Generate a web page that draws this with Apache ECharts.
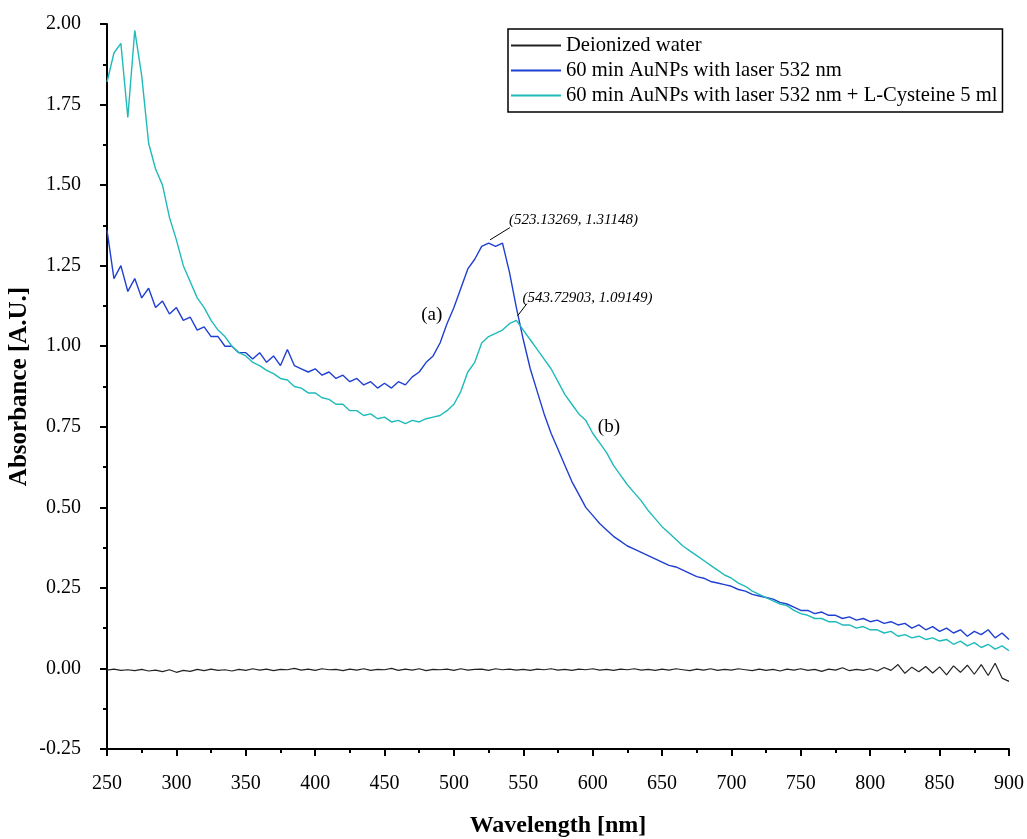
<!DOCTYPE html>
<html>
<head>
<meta charset="utf-8">
<script src="https://cdn.jsdelivr.net/npm/echarts@6/dist/echarts.min.js"></script>
<style>
  html, body { margin: 0; padding: 0; background: #fff; }
  #chart { width: 1027px; height: 839px; }
</style>
</head>
<body>
<div id="chart"></div>
<script>
// wavelength grid: 250..900 nm, 5 nm apart
const wlStart = 250;
const wlStep = 5;

const seriesNames = [
  'Deionized water',
  '60 min AuNPs with laser 532 nm',
  '60 min AuNPs with laser 532 nm + L-Cysteine 5 ml'
];

const water = [
  -0.005, -0.002, -0.006, -0.004, -0.007, -0.003, -0.008, -0.005, -0.010, -0.004,
  -0.012, -0.006, -0.009, -0.003, -0.007, -0.002, -0.006, -0.004, -0.008, -0.003,
  -0.006, -0.001, -0.005, -0.002, -0.007, -0.003, -0.004, 0.000, -0.005, -0.002,
  -0.006, -0.001, -0.004, -0.003, -0.007, -0.002, -0.005, -0.001, -0.006, -0.003,
  -0.004, 0.000, -0.006, -0.002, -0.005, -0.001, -0.007, -0.003, -0.004, -0.002,
  -0.006, -0.001, -0.005, -0.003, -0.002, -0.006, -0.001, -0.004, -0.002, -0.005,
  -0.003, -0.006, -0.002, -0.004, -0.001, -0.005, -0.003, -0.006, -0.002, -0.004,
  -0.001, -0.005, -0.003, -0.006, -0.002, -0.004, -0.001, -0.005, -0.003, -0.006,
  -0.002, -0.005, -0.001, -0.004, -0.007, -0.002, -0.005, -0.001, -0.006, -0.003,
  -0.005, -0.001, -0.004, -0.007, -0.002, -0.006, -0.003, -0.008, -0.002, -0.005,
  -0.001, -0.006, -0.003, -0.009, -0.002, -0.005, 0.002, -0.007, -0.003, -0.006,
  -0.001, -0.008, 0.003, -0.006, 0.012, -0.015, 0.004, -0.010, 0.006, -0.014,
  0.005, -0.020, 0.008, -0.012, 0.010, -0.018, 0.012, -0.022, 0.016, -0.030,
  -0.040
];

const auLaser = [
  1.36, 1.21, 1.25, 1.17, 1.21, 1.15, 1.18, 1.12, 1.14, 1.10,
  1.12, 1.08, 1.09, 1.05, 1.06, 1.03, 1.03, 1.00, 1.00, 0.98,
  0.98, 0.96, 0.98, 0.95, 0.97, 0.94, 0.99, 0.94, 0.93, 0.92,
  0.93, 0.91, 0.92, 0.90, 0.91, 0.89, 0.90, 0.88, 0.89, 0.87,
  0.885, 0.87, 0.89, 0.88, 0.905, 0.92, 0.95, 0.97, 1.01, 1.07,
  1.12, 1.18, 1.24, 1.27, 1.31, 1.32, 1.31, 1.32, 1.23, 1.12,
  1.02, 0.93, 0.86, 0.79, 0.73, 0.68, 0.63, 0.58, 0.54, 0.50,
  0.475, 0.45, 0.43, 0.41, 0.395, 0.38, 0.37, 0.36, 0.35, 0.34,
  0.33, 0.32, 0.315, 0.305, 0.295, 0.285, 0.28, 0.27, 0.265, 0.26,
  0.255, 0.245, 0.24, 0.23, 0.225, 0.22, 0.215, 0.205, 0.20, 0.19,
  0.18, 0.18, 0.17, 0.175, 0.165, 0.165, 0.155, 0.16, 0.15, 0.155,
  0.145, 0.15, 0.14, 0.145, 0.135, 0.14, 0.125, 0.135, 0.12, 0.13,
  0.115, 0.125, 0.11, 0.12, 0.10, 0.115, 0.105, 0.12, 0.095, 0.11,
  0.09
];

const auCysteine = [
  1.82, 1.91, 1.94, 1.71, 1.98, 1.84, 1.63, 1.55, 1.50, 1.40,
  1.33, 1.25, 1.20, 1.15, 1.12, 1.08, 1.05, 1.03, 1.00, 0.98,
  0.97, 0.95, 0.94, 0.925, 0.915, 0.90, 0.895, 0.875, 0.87, 0.855,
  0.855, 0.84, 0.835, 0.82, 0.82, 0.80, 0.80, 0.785, 0.79, 0.775,
  0.78, 0.765, 0.77, 0.76, 0.77, 0.765, 0.775, 0.78, 0.785, 0.80,
  0.82, 0.86, 0.92, 0.95, 1.01, 1.03, 1.04, 1.05, 1.07, 1.08,
  1.05, 1.02, 0.99, 0.96, 0.93, 0.89, 0.85, 0.82, 0.79, 0.77,
  0.73, 0.70, 0.67, 0.63, 0.60, 0.57, 0.545, 0.52, 0.49, 0.465,
  0.44, 0.42, 0.40, 0.38, 0.365, 0.35, 0.335, 0.32, 0.305, 0.29,
  0.28, 0.265, 0.255, 0.24, 0.23, 0.22, 0.21, 0.20, 0.195, 0.18,
  0.17, 0.165, 0.155, 0.155, 0.145, 0.145, 0.135, 0.135, 0.125, 0.13,
  0.12, 0.12, 0.11, 0.115, 0.10, 0.105, 0.095, 0.10, 0.09, 0.095,
  0.085, 0.09, 0.075, 0.085, 0.07, 0.08, 0.065, 0.075, 0.06, 0.07,
  0.055
];

// peak readouts printed on the chart
const peakA = [523.13269, 1.31148];
const peakB = [543.72903, 1.09149];

const toPairs = vals => vals.map((v, i) => [wlStart + i * wlStep, v]);

const serif = '"Liberation Serif", "Times New Roman", serif';
const chart = echarts.init(document.getElementById('chart'));

const axisCommon = {
  axisLine: { show: true, onZero: false, lineStyle: { color: '#000', width: 2 } },
  axisTick: { show: true, inside: false, length: 7, lineStyle: { color: '#000', width: 2 } },
  minorTick: { show: true, splitNumber: 2, length: 4, lineStyle: { color: '#000', width: 2 } },
  splitLine: { show: false },
  nameLocation: 'middle',
  nameMoveOverlap: false
};

const peakLabel = (pt, offset) => ({
  coord: pt,
  symbolSize: 0,
  label: {
    show: true,
    position: 'inside',
    offset: offset,
    align: 'left',
    formatter: '(' + pt[0].toFixed(5) + ', ' + pt[1].toFixed(5) + ')',
    fontFamily: serif, fontStyle: 'italic', fontSize: 15, color: '#000'
  }
});

const tagLabel = (text, pt) => ({
  coord: pt,
  symbolSize: 0,
  label: {
    show: true, position: 'inside', formatter: text,
    fontFamily: serif, fontSize: 19, color: '#000'
  }
});

chart.setOption({
  animation: false,
  backgroundColor: '#fff',
  grid: { left: 107, right: 18, top: 24, bottom: 90, containLabel: false, outerBoundsMode: 'none' },
  legend: {
    orient: 'vertical',
    left: 508,
    top: 29,
    padding: [6, 5, 6, 3],
    itemGap: 4,
    itemWidth: 50,
    itemHeight: 2,
    icon: 'rect',
    borderColor: '#000',
    borderWidth: 1.5,
    textStyle: { fontFamily: serif, fontSize: 20.6, color: '#000' },
    data: seriesNames
  },
  xAxis: Object.assign({}, axisCommon, {
    type: 'value',
    min: 250, max: 900, interval: 50,
    name: 'Wavelength [nm]',
    nameGap: 65,
    nameTextStyle: { fontFamily: serif, fontSize: 24, fontWeight: 'bold', color: '#000' },
    axisLabel: { margin: 25, fontFamily: serif, fontSize: 20, color: '#000' }
  }),
  yAxis: Object.assign({}, axisCommon, {
    type: 'value',
    min: -0.25, max: 2.0, interval: 0.25,
    name: 'Absorbance [A.U.]',
    nameGap: 75,
    nameTextStyle: { fontFamily: serif, fontSize: 25, fontWeight: 'bold', color: '#000' },
    axisLabel: {
      margin: 26, fontFamily: serif, fontSize: 20, color: '#000',
      formatter: v => v.toFixed(2)
    }
  }),
  series: [
    {
      name: seriesNames[0], type: 'line', data: toPairs(water),
      showSymbol: false, lineStyle: { color: '#222', width: 1.2 }, itemStyle: { color: '#222' }
    },
    {
      name: seriesNames[1], type: 'line', data: toPairs(auLaser),
      showSymbol: false, lineStyle: { color: '#1f3fd2', width: 1.4 }, itemStyle: { color: '#1f3fd2' },
      markLine: {
        silent: true, symbol: 'none', label: { show: false },
        lineStyle: { color: '#000', width: 1, type: 'solid' },
        data: [
          [{ coord: [526, 1.33] }, { coord: [540.3, 1.368] }],
          [{ coord: [546, 1.095] }, { coord: [552.6, 1.132] }]
        ]
      },
      markPoint: {
        silent: true,
        data: [peakLabel(peakA, [23, -26]), tagLabel('(a)', [484, 1.098])]
      }
    },
    {
      name: seriesNames[2], type: 'line', data: toPairs(auCysteine),
      showSymbol: false, lineStyle: { color: '#1fbaba', width: 1.4 }, itemStyle: { color: '#1fbaba' },
      markPoint: {
        silent: true,
        data: [peakLabel(peakB, [8, -19]), tagLabel('(b)', [611.7, 0.75])]
      }
    }
  ]
});
</script>
</body>
</html>
